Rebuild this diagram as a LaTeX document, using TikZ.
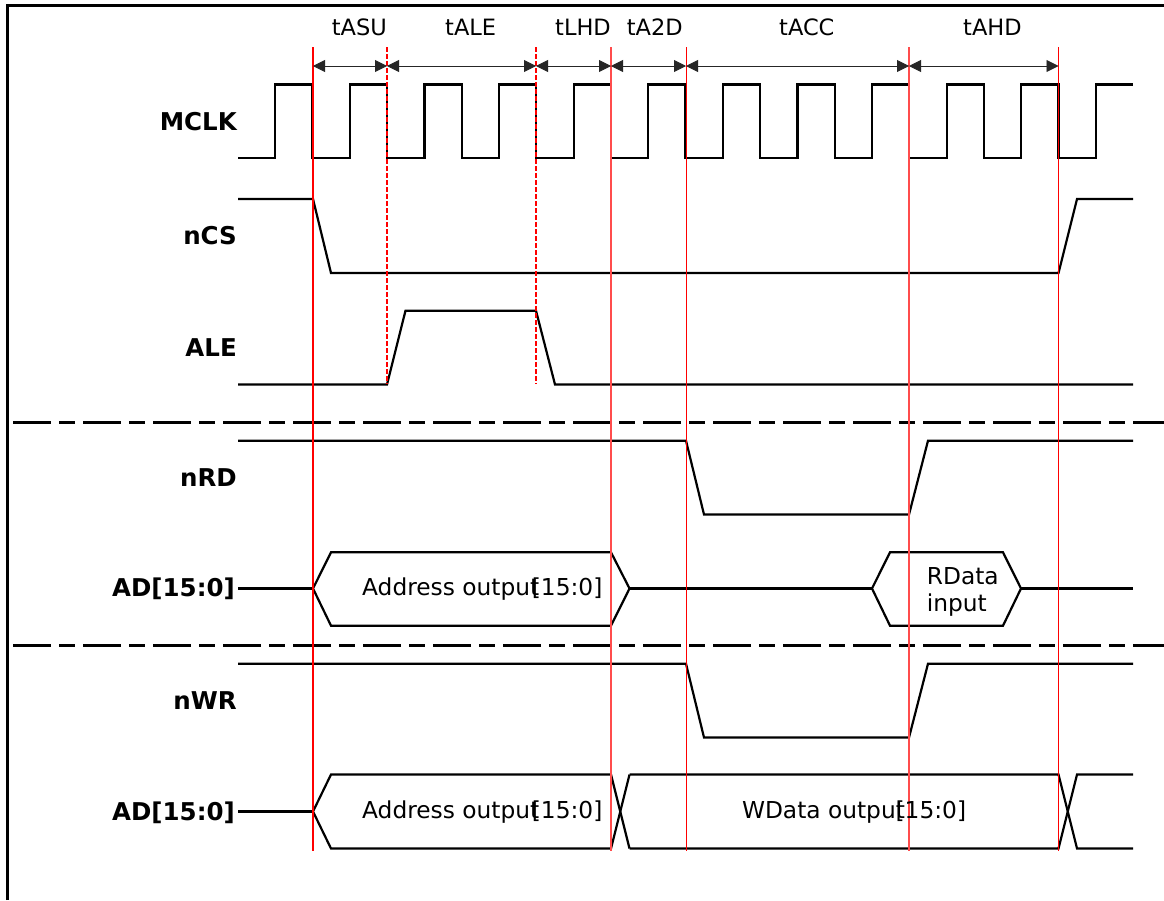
\documentclass[tikz,border=0pt]{standalone}
\usepackage{fontspec}
\setmainfont{DejaVu Sans}
\usetikzlibrary{arrows.meta}
\begin{document}
\begin{tikzpicture}[x=1pt,y=-1pt,
  wave/.style={line width=2.2pt, line join=miter},
  guide/.style={red, line width=1.4pt},
  guidelight/.style={red!70, line width=1.4pt},
  guidedash/.style={red, line width=1.4pt, dash pattern=on 5pt off 2pt},
  sep/.style={line width=3pt, dash pattern=on 38pt off 8pt on 16pt off 8pt},
  meas/.style={line width=0.9pt, black!85, {Triangle[length=12pt,width=12pt]}-{Triangle[length=12pt,width=12pt]}},
  sig/.style={font=\fontsize{24.5}{28}\selectfont\bfseries, anchor=base east, inner sep=0pt},
  txt/.style={font=\fontsize{22.5}{26}\selectfont, anchor=base west, inner sep=0pt},
  bus/.style={font=\fontsize{23.3}{27}\selectfont, anchor=base west, inner sep=0pt}]
\useasboundingbox (0,0) rectangle (1164,900);
\fill[white] (0,0) rectangle (1164,900);
% frame
\draw[line width=3pt] (7,900) -- (7,5) -- (1164,5);

% separators
\draw[sep] (13,422) -- (1164,422);
\draw[sep] (13,645) -- (1164,645);

% MCLK
\draw[wave] (238,158)
  \foreach \k in {0,...,10} {
    -- ({275.2+74.6*\k},158) -- ({275.2+74.6*\k},84.5)
    -- ({312.5+74.6*\k},84.5) -- ({312.5+74.6*\k},158) }
  -- (1095.8,158) -- (1095.8,84.5) -- (1133,84.5);

% nCS
\draw[wave] (238,199) -- (313,199) -- (331,273) -- (1058.5,273) -- (1077,199) -- (1133,199);
% ALE
\draw[wave] (238,384.5) -- (387,384.5) -- (405.5,310.7) -- (536,310.7) -- (555,384.5) -- (1133,384.5);
% nRD
\draw[wave] (238,440.7) -- (686,440.7) -- (704,514.5) -- (909,514.5) -- (928,440.7) -- (1133,440.7);
% nWR
\draw[wave] (238,663.7) -- (686,663.7) -- (704,737.5) -- (909,737.5) -- (928,663.7) -- (1133,663.7);

% AD read
\draw[wave] (238,588.5) -- (313,588.5);
\draw[wave] (313,588.5) -- (331,552.3) -- (611,552.3) -- (629.5,588.5) -- (611,625.7) -- (331,625.7) -- cycle;
\draw[wave] (629.5,588.5) -- (872,588.5);
\draw[wave] (872,588.5) -- (890,552.3) -- (1003,552.3) -- (1021,588.5) -- (1003,625.7) -- (890,625.7) -- cycle;
\draw[wave] (1021,588.5) -- (1133,588.5);

% AD write
\draw[wave] (238,811.5) -- (313,811.5);
\draw[wave] (611,774.5) -- (331,774.5) -- (313,811.5) -- (331,848.5) -- (611,848.5);
\draw[wave] (611,774.5) -- (629.5,848.5);
\draw[wave] (611,848.5) -- (629.5,774.5);
\draw[wave] (629.5,774.5) -- (1058.5,774.5) -- (1077,848.5) -- (1133,848.5);
\draw[wave] (629.5,848.5) -- (1058.5,848.5) -- (1077,774.5) -- (1133,774.5);

% guides
\draw[guide] (313,47) -- (313,851);
\draw[guidedash] (387,47) -- (387,384);
\draw[guidedash] (536,47) -- (536,384);
\draw[guidelight] (611,47) -- (611,851);
\draw[red, line width=1pt] (686,47) -- (686,851);
\draw[guidelight] (909,47) -- (909,851);
\draw[guide] (1058.5,47) -- (1058.5,851);

% measurement arrows
\coordinate (m0) at (313,66);
\coordinate (m1) at (387,66);
\coordinate (m2) at (536,66);
\coordinate (m3) at (611,66);
\coordinate (m4) at (686,66);
\coordinate (m5) at (909,66);
\coordinate (m6) at (1058.5,66);
\draw[meas] (m0) -- (m1);
\draw[meas] (m1) -- (m2);
\draw[meas] (m2) -- (m3);
\draw[meas] (m3) -- (m4);
\draw[meas] (m4) -- (m5);
\draw[meas] (m5) -- (m6);

\node[txt] (tasu) at (331.7,35) {tASU};
\node[txt] (tale) at (445,35) {tALE};
\node[txt] (tlhd) at (555,35) {tLHD};
\node[txt] (ta2d) at (626.7,35) {tA2D};
\node[txt] (tacc) at (779,35) {tACC};
\node[txt] (tahd) at (963,35) {tAHD};

% signal labels
\node[sig] (lmclk) at (237,130) {MCLK};
\node[sig] (lncs) at (237,244) {nCS};
\node[sig] (lale) at (237,356.7) {ALE};
\node[sig] (lnrd) at (237,486) {nRD};
\node[sig] (lad1) at (235,596.7) {AD[15:0]};
\node[sig] (lnwr) at (237,709) {nWR};
\node[sig] (lad2) at (235,820) {AD[15:0]};

% bus texts
\node[bus] (addr1) at (362,595) {Address output};
\node[bus] (addr1b) at (531.7,595) {[15:0]};
\node[bus] (rdata) at (926.7,584) {RData};
\node[bus] (rinput) at (926.7,611) {input};
\node[bus] (addr2) at (362,818) {Address output};
\node[bus] (addr2b) at (531.7,818) {[15:0]};
\node[bus] (wdata) at (741.8,818) {WData output};
\node[bus] (wdatab) at (895.4,818) {[15:0]};
\end{tikzpicture}
\end{document}
